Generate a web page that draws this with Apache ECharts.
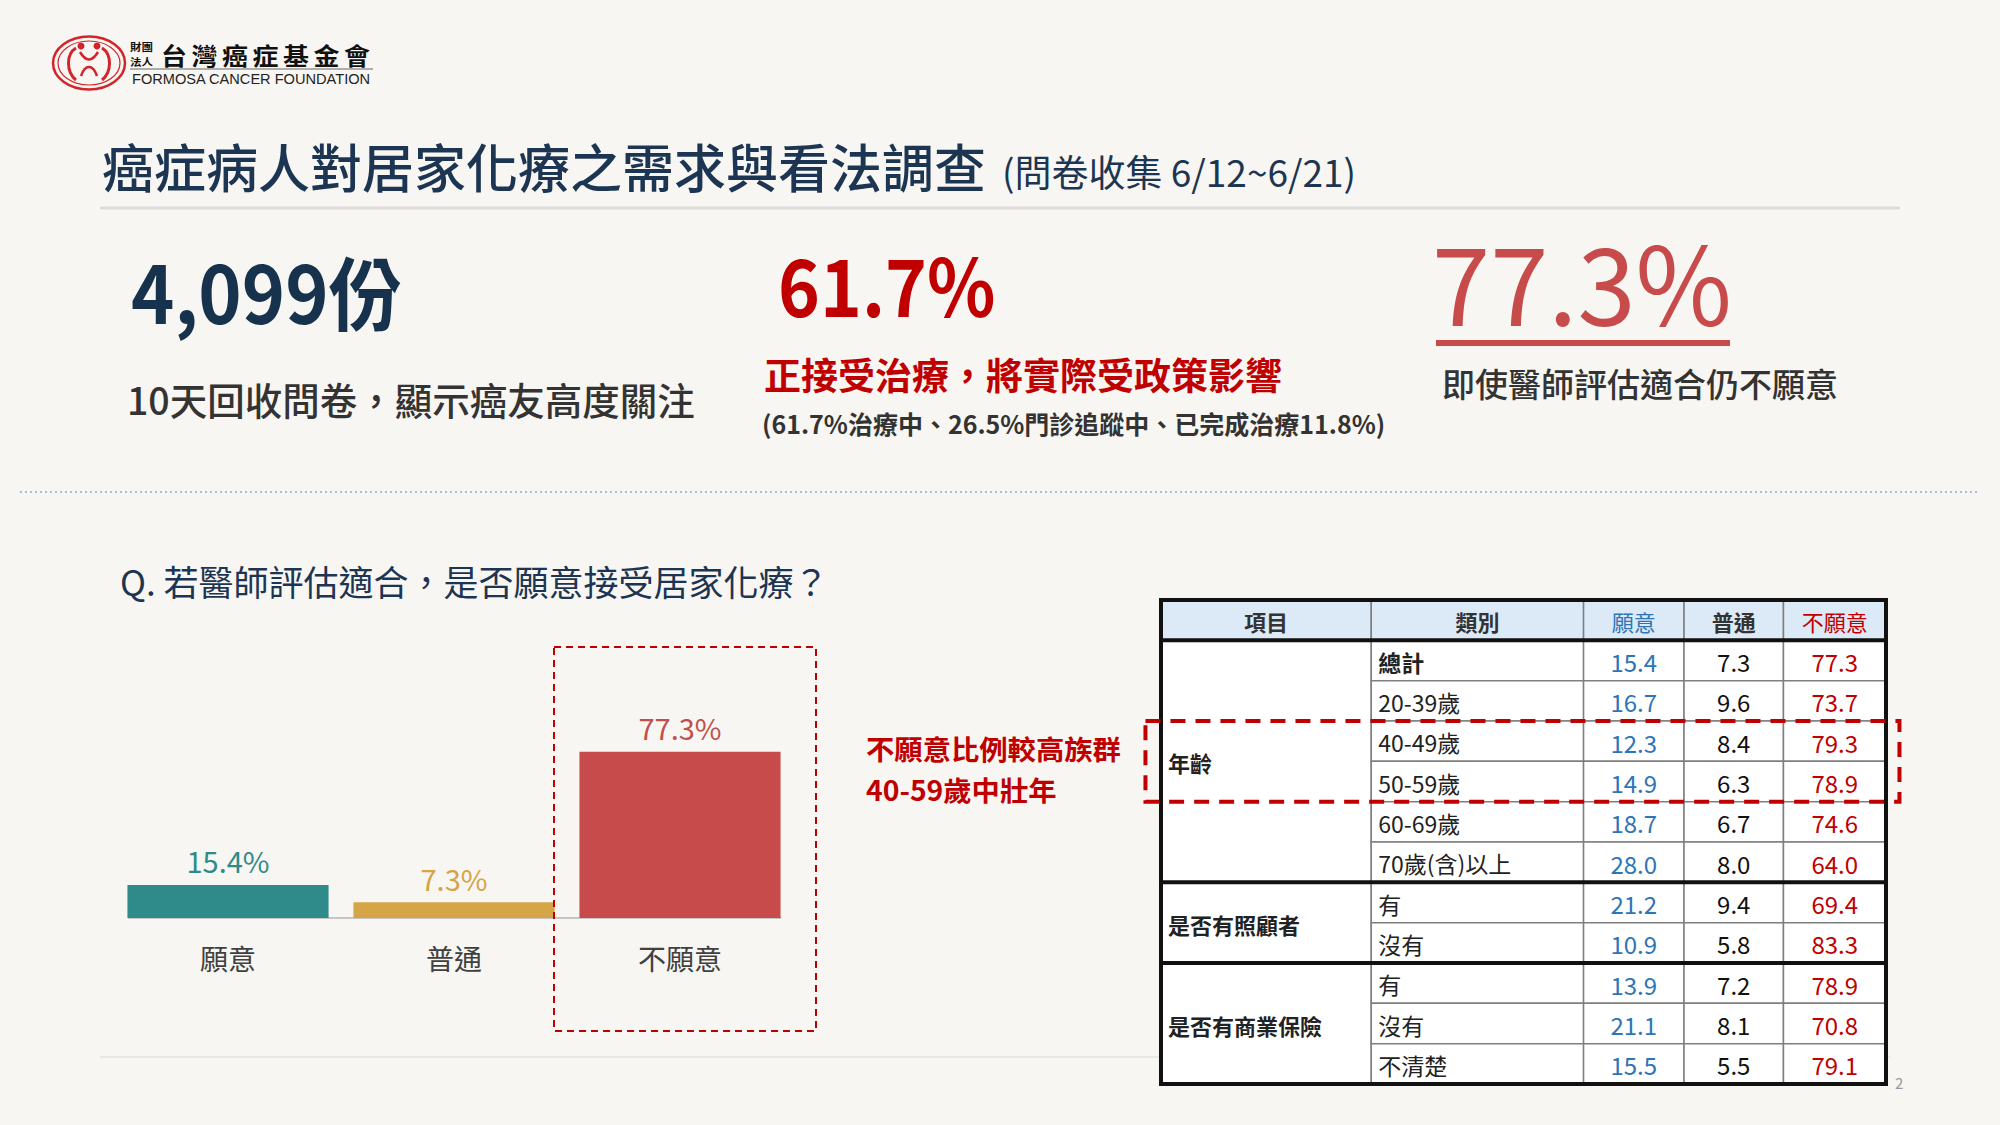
<!DOCTYPE html>
<html>
<head>
<meta charset="utf-8">
<script src="https://cdn.jsdelivr.net/npm/echarts@6/dist/echarts.min.js"></script>
<style>
html,body{margin:0;padding:0;background:#f8f6f2;}
#chart{width:2000px;height:1125px;}
</style>
</head>
<body>
<div id="chart"></div>
<script>
// ---------- data ----------
const pageTitle = '癌症病人對居家化療之需求與看法調查';
const pageSubtitle = '(問卷收集 6/12~6/21)';
const statResponses = '4,099份';
const statResponsesNote = '10天回收問卷，顯示癌友高度關注';
const statTreatment = '61.7%';
const statTreatmentNote = '正接受治療，將實際受政策影響';
const statTreatmentDetail = '(61.7%治療中、26.5%門診追蹤中、已完成治療11.8%)';
const statUnwilling = '77.3%';
const statUnwillingNote = '即使醫師評估適合仍不願意';
const question = 'Q. 若醫師評估適合，是否願意接受居家化療？';
const highlightNote = ['不願意比例較高族群', '40-59歲中壯年'];
const logoName = ['台', '灣', '癌', '症', '基', '金', '會'];
const logoPrefix = ['財團', '法人'];

const barCats = ['願意', '普通', '不願意'];
const barValues = [15.4, 7.3, 77.3];

const tableHeaders = ['項目', '類別', '願意', '普通', '不願意'];
const tableGroups = ['年齡', '是否有照顧者', '是否有商業保險'];
const groupSizes = [6, 2, 3];
const rowLabels = ['總計', '20-39歲', '40-49歲', '50-59歲', '60-69歲', '70歲(含)以上', '有', '沒有', '有', '沒有', '不清楚'];
const willing = [15.4, 16.7, 12.3, 14.9, 18.7, 28.0, 21.2, 10.9, 13.9, 21.1, 15.5];
const neutral = [7.3, 9.6, 8.4, 6.3, 6.7, 8.0, 9.4, 5.8, 7.2, 8.1, 5.5];
const unwilling = [77.3, 73.7, 79.3, 78.9, 74.6, 64.0, 69.4, 83.3, 78.9, 70.8, 79.1];
const highlightRows = [2, 3];

// ---------- styles ----------
const F = '"Noto Sans CJK TC","Noto Sans CJK SC","Noto Sans",sans-serif';
const NAVY = '#1c3553';
const DARK = '#333333';
const RED = '#c00000';
const SOFTRED = '#c84b4b';
const LOGORED = '#d3242c';
const barColors = ['#2e8b89', '#d5a547', '#c84b4b'];
const barLabelColors = ['#2e8b89', '#d4a446', '#c0504d'];
const colTextColors = [DARK, DARK, '#2e75b6', DARK, RED];

// column edges (axis units) for table columns: 項目, 類別, 願意, 普通, 不願意
const colEdges = [0, 2.03, 4.08, 5.05, 6.01, 7];

function T(text, x, y, size, color, weight, align, family, sx) {
  const fam = family || F;
  const el = {
    type: 'text', silent: true,
    style: {
      text: text, x: 0, y: y,
      font: (weight || 'normal') + ' ' + size + 'px ' + fam,
      fill: color,
      textAlign: align || 'left',
      textVerticalAlign: 'middle'
    },
    x: x
  };
  if (sx) { el.scaleX = sx; }
  return el;
}

function bez(x1, y1, cx1, cy1, cx2, cy2, x2, y2, w) {
  return {type: 'bezierCurve', shape: {x1: x1, y1: y1, cpx1: cx1, cpy1: cy1, cpx2: cx2, cpy2: cy2, x2: x2, y2: y2},
    style: {fill: 'none', stroke: LOGORED, lineWidth: w}};
}

// ---------- table cells ----------
const cells = [];
tableHeaders.forEach(function (h, i) {
  cells.push({x0: colEdges[i], x1: colEdges[i + 1], y0: 0, y1: 1, text: h,
    color: colTextColors[i], weight: (i === 2 || i === 4) ? 'normal' : 'bold',
    fill: '#dce9f6', align: 'center', size: 22});
});
let r = 1;
tableGroups.forEach(function (g, gi) {
  cells.push({x0: 0, x1: colEdges[1], y0: r, y1: r + groupSizes[gi], text: g, color: '#222',
    weight: 'bold', fill: '#ffffff', align: 'left', size: 22});
  r += groupSizes[gi];
});
rowLabels.forEach(function (lab, i) {
  const y0 = i + 1, y1 = i + 2;
  cells.push({x0: colEdges[1], x1: colEdges[2], y0: y0, y1: y1, text: lab, color: '#222',
    weight: i === 0 ? 'bold' : 'normal', fill: '#ffffff', align: 'left', size: 23});
  cells.push({x0: colEdges[2], x1: colEdges[3], y0: y0, y1: y1, text: willing[i].toFixed(1), color: '#2e75b6',
    weight: 'normal', fill: '#ffffff', align: 'center', size: 24});
  cells.push({x0: colEdges[3], x1: colEdges[4], y0: y0, y1: y1, text: neutral[i].toFixed(1), color: '#111',
    weight: 'normal', fill: '#ffffff', align: 'center', size: 24});
  cells.push({x0: colEdges[4], x1: colEdges[5], y0: y0, y1: y1, text: unwilling[i].toFixed(1), color: RED,
    weight: 'normal', fill: '#ffffff', align: 'center', size: 24});
});

// thick lines: header bottom, group separators, outer
const thickLines = [[0, 0, 7, 0], [0, 1, 7, 1], [0, 12, 7, 12], [0, 0, 0, 12], [7, 0, 7, 12]];
let acc = 1;
groupSizes.slice(0, -1).forEach(function (s) { acc += s; thickLines.push([0, acc, 7, acc]); });

const hlBox = [-0.15, 1 + highlightRows[0], 7.13, 1 + highlightRows[highlightRows.length - 1] + 1];

// ---------- chart ----------
const chart = echarts.init(document.getElementById('chart'), null, {renderer: 'svg', width: 2000, height: 1125});

const logo = [
  {type: 'ellipse', shape: {cx: 89, cy: 63, rx: 36, ry: 26.5}, style: {fill: 'none', stroke: LOGORED, lineWidth: 2.5}},
  {type: 'ellipse', shape: {cx: 89, cy: 63, rx: 31, ry: 22}, style: {fill: 'none', stroke: LOGORED, lineWidth: 1.2}},
  bez(76, 48, 66, 54, 66, 72, 76, 80, 3),
  bez(102, 48, 112, 54, 112, 72, 102, 80, 3),
  bez(80, 52, 86, 62, 92, 62, 98, 52, 2.5),
  bez(81, 76, 85, 64, 93, 64, 97, 76, 2.5),
  {type: 'circle', shape: {cx: 81, cy: 46, r: 3.5}, style: {fill: LOGORED}},
  {type: 'circle', shape: {cx: 97, cy: 46, r: 3.5}, style: {fill: LOGORED}},
  T(logoPrefix[0], 130, 46.5, 10, '#111', 'bold', 'left', F, 1.15),
  T(logoPrefix[1], 130, 61.5, 10, '#111', 'bold', 'left', F, 1.15),
  {type: 'line', shape: {x1: 130, y1: 69, x2: 373, y2: 69}, style: {stroke: '#666', lineWidth: 1}},
  T('FORMOSA CANCER FOUNDATION', 132, 79, 14.6, '#222', 'normal', 'left', '"Liberation Sans", Arial, sans-serif')
].concat(logoName.map(function (ch, i) {
  return T(ch, 161 + i * 30.5, 54, 24, '#111', 'bold', 'left', F, 1.08);
}));

const graphics = logo.concat([
  T(pageTitle, 102, 165, 52, NAVY, '500'),
  T(pageSubtitle, 1002, 171, 37, NAVY, 'normal'),
  {type: 'line', shape: {x1: 100, y1: 208, x2: 1900, y2: 208}, style: {stroke: '#dcdcdc', lineWidth: 3}},

  T(statResponses, 131, 289, 80, '#17324d', 'bold', 'left', F, 0.92),
  T(statResponsesNote, 127, 398, 37.5, DARK, '500'),

  T(statTreatment, 778, 283, 79, RED, 'bold', 'left', F, 0.9),
  T(statTreatmentNote, 764, 374, 37, RED, 'bold'),
  T(statTreatmentDetail, 762, 423, 25, DARK, 'bold'),

  T(statUnwilling, 1432, 279, 108, SOFTRED, 'normal', 'left', F, 0.97),
  {type: 'rect', shape: {x: 1436, y: 340, width: 294, height: 6}, style: {fill: SOFTRED}},
  T(statUnwillingNote, 1442, 383, 33, DARK, '500'),

  {type: 'line', shape: {x1: 20, y1: 492, x2: 1977, y2: 492}, style: {stroke: '#8eaacc', lineWidth: 1.5, lineDash: [2, 3]}},

  T(question, 120, 580, 35, NAVY, 'normal'),

  {type: 'line', shape: {x1: 128, y1: 918, x2: 781, y2: 918}, style: {stroke: '#c6c6c6', lineWidth: 2}},
  {type: 'rect', z: 10, shape: {x: 554, y: 647, width: 262, height: 384}, style: {fill: 'none', stroke: RED, lineWidth: 2, lineDash: [7, 5]}},
  T(highlightNote[0], 866, 748, 27.5, RED, 'bold', 'left', F, 1.03),
  T(highlightNote[1], 866, 789, 27.5, RED, 'bold', 'left', F, 1.03),

  {type: 'line', shape: {x1: 100, y1: 1057, x2: 1890, y2: 1057}, style: {stroke: '#e3e3e3', lineWidth: 1.5}},
  T('2', 1895, 1082, 15, '#999', 'normal')
]);

const option = {
  backgroundColor: '#f8f6f2',
  animation: false,
  textStyle: {fontFamily: F},
  graphic: {elements: graphics},
  grid: [
    {left: 115, top: 703, width: 678, height: 215},
    {left: 1161, top: 600, width: 725, height: 484}
  ],
  xAxis: [
    {gridIndex: 0, type: 'category', data: barCats,
      axisLine: {show: false},
      axisTick: {show: false},
      axisLabel: {color: '#404040', fontSize: 28, fontFamily: F, margin: 26}},
    {gridIndex: 1, type: 'value', min: 0, max: 7, show: false}
  ],
  yAxis: [
    {gridIndex: 0, type: 'value', min: 0, max: 100, show: false},
    {gridIndex: 1, type: 'value', min: 0, max: 12, inverse: true, show: false}
  ],
  series: [
    {
      type: 'bar', xAxisIndex: 0, yAxisIndex: 0,
      barCategoryGap: '11%',
      data: barValues.map(function (v, i) {
        return {value: v, itemStyle: {color: barColors[i]},
          label: {color: barLabelColors[i]}};
      }),
      label: {show: true, position: 'top', distance: 10, fontSize: 29, fontFamily: F,
        formatter: function (p) { return p.value + '%'; }}
    },
    {
      type: 'custom', xAxisIndex: 1, yAxisIndex: 1, z: 3,
      data: cells.map(function (c) { return [c.x0, c.y0, c.x1, c.y1]; }),
      renderItem: function (params, api) {
        const c = cells[params.dataIndex];
        const p0 = api.coord([c.x0, c.y0]);
        const p1 = api.coord([c.x1, c.y1]);
        const tx = c.align === 'left' ? p0[0] + 7 : (p0[0] + p1[0]) / 2;
        return {type: 'group', children: [
          {type: 'rect', shape: {x: p0[0], y: p0[1], width: p1[0] - p0[0], height: p1[1] - p0[1]},
            style: {fill: c.fill, stroke: '#7f7f7f', lineWidth: 1.5}},
          {type: 'text', style: {text: c.text, x: tx, y: (p0[1] + p1[1]) / 2 + 1,
            font: c.weight + ' ' + c.size + 'px ' + F,
            fill: c.color, textAlign: c.align, textVerticalAlign: 'middle'}}
        ]};
      }
    },
    {
      type: 'custom', xAxisIndex: 1, yAxisIndex: 1, z: 4,
      data: thickLines,
      renderItem: function (params, api) {
        const p0 = api.coord([api.value(0), api.value(1)]);
        const p1 = api.coord([api.value(2), api.value(3)]);
        return {type: 'line', shape: {x1: p0[0], y1: p0[1], x2: p1[0], y2: p1[1]},
          style: {stroke: '#111', lineWidth: 4, lineCap: 'square'}};
      }
    },
    {
      type: 'custom', xAxisIndex: 1, yAxisIndex: 1, z: 5,
      data: [hlBox],
      renderItem: function (params, api) {
        const p0 = api.coord([api.value(0), api.value(1)]);
        const p1 = api.coord([api.value(2), api.value(3)]);
        return {type: 'rect', shape: {x: p0[0], y: p0[1], width: p1[0] - p0[0], height: p1[1] - p0[1]},
          style: {fill: 'none', stroke: RED, lineWidth: 4, lineDash: [15, 10]}};
      }
    }
  ]
};
chart.setOption(option);
</script>
</body>
</html>
